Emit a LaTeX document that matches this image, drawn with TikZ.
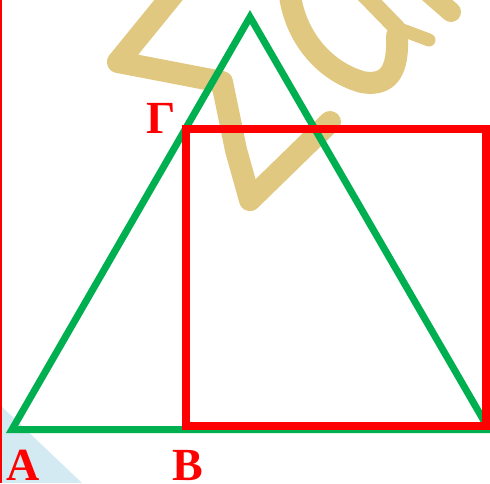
\documentclass[tikz,border=0pt]{standalone}
\usepackage{fontspec}
\setmainfont{Liberation Serif}
\definecolor{tgreen}{RGB}{0,176,80}
\definecolor{tred}{RGB}{255,0,0}
\definecolor{ttan}{RGB}{224,200,128}
\definecolor{tblue}{RGB}{212,234,242}
\tikzset{
  sketch/.style={draw=ttan,line width=22pt,line cap=round,line join=round},
  tri/.style={draw=tgreen,line width=7pt,line join=miter},
  sq/.style={draw=tred,line width=8pt,line join=miter},
  lab/.style={text=tred,inner sep=0pt,anchor=north west,font=\bfseries\fontsize{46}{46}\selectfont}
}
\begin{document}
\begin{tikzpicture}[x=1pt,y=-1pt]
\useasboundingbox (0,0) rectangle (490,483);
% light blue corner
\fill[tblue] (0,405) -- (82,483) -- (0,483) -- cycle;
% left red edge
\draw[tred,line width=2pt] (1,0) -- (1,483);
% handwriting strokes in background
\draw[sketch] (175,-8) -- (118,62) -- (222,82) -- (236,150) -- (250,200) -- (330,122);
\draw[sketch] (289,-15) .. controls (291,30) and (320,70) .. (362,82)
  .. controls (394,88) and (398,62) .. (397,36);
\draw[sketch,line width=17pt] (364,-6) -- (397,28);
\draw[sketch,line width=13pt] (397,28) -- (429,40);
\draw[sketch,line width=20pt] (428,-8) -- (451,12);
% green triangle
\coordinate (pA) at (12,429.5);
\coordinate (pT) at (250,17);
\coordinate (pR) at (489,429.5);
\draw[tri] (pA) -- (pT) -- (pR) -- cycle;
% red square
\coordinate (q1) at (186,129);
\coordinate (q2) at (486,425.5);
\draw[sq] (q1) rectangle (q2);
% labels
\node[lab] (lG) at (146,103) {Γ};
\node[lab] (lA) at (6,450) {A};
\node[lab] (lB) at (172,450) {B};
\end{tikzpicture}
\end{document}
